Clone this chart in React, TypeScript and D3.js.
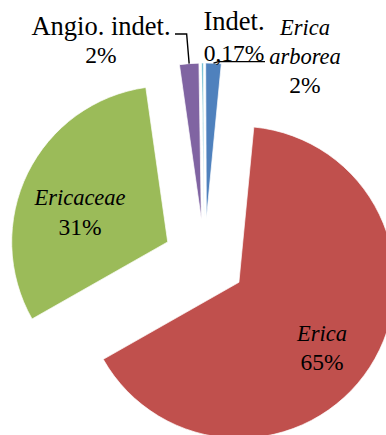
import React from 'react';
import * as d3 from 'd3';

// ---- data ----
const categories = ['Erica arborea', 'Erica', 'Ericaceae', 'Angio. indet.', 'Indet.'];
const values = [1.6, 65.3, 31.0, 2.0, 0.17];
const valueLabels = ['2%', '65%', '31%', '2%', '0,17%'];
const nameLines = [['Erica', 'arborea'], ['Erica'], ['Ericaceae'], ['Angio. indet.'], ['Indet.']];
const nameItalic = [true, true, true, false, false];
const colors = ['#4F81BD', '#C0504D', '#9BBB59', '#8064A2', '#4BACC6'];

// ---- layout ----
const W = 386;
const H = 435;
const CX = 204.5;
const CY = 260;
const R = 156;
const EXPLODE = 41;
const START = (-0.26 * Math.PI) / 180;
const FONT = 'Liberation Serif';
const FS_ROMAN = 26.5;
const FS_ITALIC = 22.5;
const FS_VALUE = 23.5;
// label anchor: center x, first baseline y, line height
const labelPos = [
  { x: 305, y: 35, lh: 29 },
  { x: 322, y: 341, lh: 29 },
  { x: 80, y: 205, lh: 30 },
  { x: 101, y: 35, lh: 28 },
  { x: 234, y: 30, lh: 31 },
];

export default function App() {
  const pie = d3
    .pie<number>()
    .sort(null)
    .value((d) => d)
    .startAngle(START)
    .endAngle(START + 2 * Math.PI);
  const arcs = pie(values);
  const arcGen = d3.arc<d3.PieArcDatum<number>>().innerRadius(0).outerRadius(R);

  const offset = (a: d3.PieArcDatum<number>, d: number) => {
    const m = (a.startAngle + a.endAngle) / 2;
    return [Math.sin(m) * d, -Math.cos(m) * d];
  };
  const outerMid = (a: d3.PieArcDatum<number>) => {
    const m = (a.startAngle + a.endAngle) / 2;
    return [CX + Math.sin(m) * (R + EXPLODE), CY - Math.cos(m) * (R + EXPLODE)];
  };

  // leader lines (Erica arborea, Angio. indet.)
  const pB = outerMid(arcs[0]);
  const leaderB = d3.line()([
    [pB[0], pB[1]],
    [pB[0] + 5, pB[1] - 1.6],
    [265, pB[1] - 1.6],
  ]);
  const pP = outerMid(arcs[3]);
  const leaderP = d3.line()([
    [pP[0], pP[1]],
    [pP[0] - 2.5, 34],
    [175, 34],
  ]);

  return (
    <svg
      width={W}
      height={H}
      style={{ position: 'absolute', left: 0, top: 0, display: 'block', background: '#fff' }}
    >
      <g>
        {arcs.map((a, i) => {
          const [dx, dy] = offset(a, EXPLODE);
          return (
            <path
              key={categories[i]}
              d={arcGen(a) || ''}
              transform={`translate(${CX + dx},${CY + dy})`}
              fill={colors[i]}
              stroke="#fff"
              strokeWidth={0.7}
            />
          );
        })}
      </g>
      <path d={leaderB || ''} fill="none" stroke="#000" strokeWidth={1.4} />
      <path d={leaderP || ''} fill="none" stroke="#000" strokeWidth={1.4} />
      <g fontFamily={FONT} fill="#000" textAnchor="middle">
        {categories.map((c, i) => {
          const p = labelPos[i];
          const lines = nameLines[i];
          return (
            <text key={c}>
              {lines.map((t, j) => (
                <tspan
                  key={j}
                  x={p.x}
                  y={p.y + j * p.lh}
                  fontStyle={nameItalic[i] ? 'italic' : 'normal'}
                  fontSize={nameItalic[i] ? FS_ITALIC : FS_ROMAN}
                >
                  {t}
                </tspan>
              ))}
              <tspan x={p.x} y={p.y + lines.length * p.lh} fontSize={FS_VALUE}>
                {valueLabels[i]}
              </tspan>
            </text>
          );
        })}
      </g>
    </svg>
  );
}
